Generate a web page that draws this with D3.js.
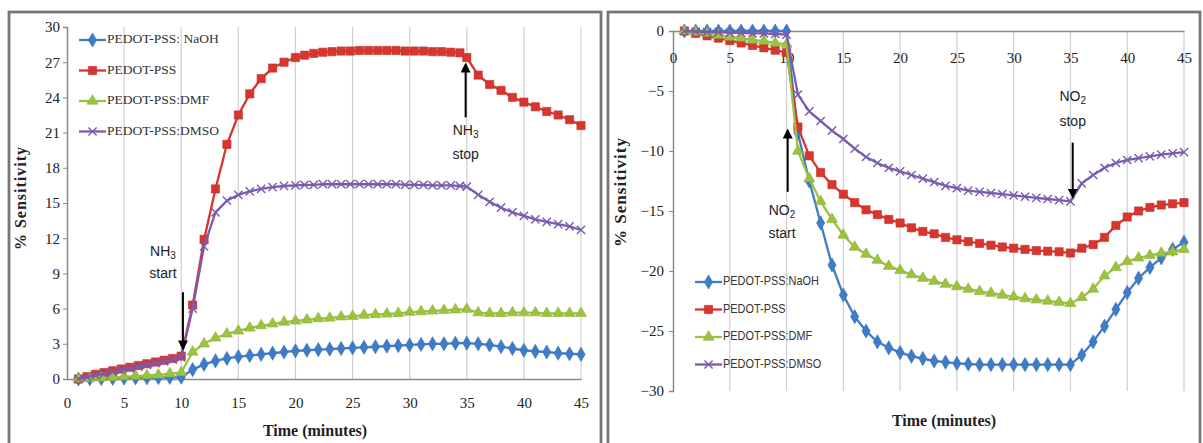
<!DOCTYPE html>
<html><head><meta charset="utf-8">
<script src="https://cdn.jsdelivr.net/npm/d3@7"></script>
<style>body{margin:0;background:#fff} svg{display:block}</style>
</head><body>
<svg id="c" width="1203" height="443"></svg>
<script>
// ---------------- DATA ----------------
const legendLeft  = ["PEDOT-PSS: NaOH","PEDOT-PSS","PEDOT-PSS:DMF","PEDOT-PSS:DMSO"];
const legendRight = ["PEDOT-PSS:NaOH","PEDOT-PSS","PEDOT-PSS:DMF","PEDOT-PSS:DMSO"];
const seriesColors = ["#3e7cc8","#d9352f","#9cc33f","#7a5cae"];
const seriesMarkers = ["diamond","square","triangle","times"];

const xTicks = [0,5,10,15,20,25,30,35,40,45];
const yTicksLeft = [0,3,6,9,12,15,18,21,24,27,30];
const yTicksRight = [0,-5,-10,-15,-20,-25,-30];

// common 1-minute time base
const tMin = [1,2,3,4,5,6,7,8,9,10,11,12,13,14,15,16,17,18,19,20,21,22,23,24,25,26,27,28,29,30,31,32,33,34,35,36,37,38,39,40,41,42,43,44,45];
// denser time base (left PEDOT-PSS and DMSO)
const tDense = [1,1.75,2.5,3.25,4,4.75,5.5,6.25,7,7.75,8.5,9.25,10,11,12,13,14,15,16,17,18,19,20,20.8,21.6,22.4,23.2,24,24.8,25.6,26.4,27.2,28,28.8,29.6,30.4,31.2,32,32.8,33.6,34.4,35,36,37,38,39,40,41,42,43,44,45];

// Left panel (NH3)
const nh3NaOH = [0,0.02,0.04,0.06,0.08,0.1,0.1,0.12,0.14,0.15,0.8,1.25,1.55,1.75,1.9,2.0,2.1,2.2,2.3,2.4,2.45,2.5,2.55,2.6,2.65,2.7,2.75,2.8,2.85,2.9,2.95,3.0,3.0,3.05,3.05,3.0,2.9,2.75,2.6,2.45,2.35,2.3,2.2,2.15,2.1];
const nh3PSS = [0,0.2,0.4,0.55,0.7,0.85,1.0,1.15,1.3,1.45,1.6,1.75,1.95,6.3,11.9,16.2,20.0,22.5,24.3,25.6,26.5,27.0,27.4,27.6,27.75,27.85,27.9,27.95,27.95,28.0,28.0,28.0,28.0,28.0,27.95,27.95,27.95,27.9,27.9,27.85,27.8,27.4,25.9,25.1,24.6,24.0,23.6,23.2,22.8,22.5,22.1,21.6];
const nh3DMF = [0,0.05,0.1,0.15,0.2,0.25,0.3,0.35,0.45,0.55,2.3,3.0,3.5,3.85,4.1,4.35,4.55,4.7,4.85,4.95,5.05,5.15,5.2,5.3,5.35,5.45,5.5,5.55,5.6,5.7,5.75,5.8,5.85,5.9,5.95,5.65,5.6,5.6,5.65,5.65,5.65,5.6,5.6,5.6,5.6];
const nh3DMSO = [0,0.15,0.3,0.45,0.6,0.75,0.9,1.05,1.2,1.35,1.5,1.65,1.85,6.0,11.3,14.2,15.2,15.7,16.0,16.2,16.35,16.45,16.5,16.55,16.55,16.6,16.6,16.6,16.6,16.6,16.6,16.6,16.6,16.6,16.55,16.55,16.55,16.5,16.5,16.5,16.45,16.4,15.7,15.1,14.6,14.2,13.9,13.6,13.4,13.2,13.0,12.7];

// Right panel (NO2)
const no2NaOH = [0,0,0,0,0,0,0,0,0,0,-8.5,-12.5,-16.0,-19.5,-22.0,-23.8,-25.0,-25.9,-26.4,-26.8,-27.1,-27.3,-27.5,-27.6,-27.7,-27.75,-27.8,-27.8,-27.8,-27.8,-27.8,-27.8,-27.8,-27.8,-27.8,-27.0,-25.9,-24.6,-23.2,-21.8,-20.6,-19.7,-18.9,-18.2,-17.6];
const no2PSS = [0,-0.2,-0.4,-0.6,-0.8,-1.0,-1.2,-1.4,-1.6,-1.8,-8.0,-10.4,-11.8,-12.8,-13.6,-14.3,-14.9,-15.3,-15.7,-16.0,-16.4,-16.7,-16.9,-17.2,-17.4,-17.55,-17.7,-17.85,-18.0,-18.1,-18.2,-18.3,-18.35,-18.4,-18.5,-18.1,-17.8,-17.2,-16.2,-15.5,-15.0,-14.7,-14.5,-14.4,-14.3];
const no2DMF = [0,-0.1,-0.2,-0.35,-0.5,-0.6,-0.75,-0.85,-1.0,-1.1,-10.0,-12.3,-14.2,-15.7,-17.0,-18.0,-18.6,-19.1,-19.6,-19.95,-20.3,-20.6,-20.85,-21.1,-21.3,-21.5,-21.7,-21.85,-22.0,-22.15,-22.3,-22.4,-22.5,-22.6,-22.7,-22.2,-21.5,-20.4,-19.7,-19.2,-18.9,-18.7,-18.5,-18.4,-18.2];
const no2DMSO = [0,-0.05,-0.1,-0.1,-0.15,-0.15,-0.2,-0.2,-0.25,-0.3,-5.3,-6.7,-7.5,-8.3,-9.0,-9.8,-10.5,-11.0,-11.4,-11.7,-12.0,-12.3,-12.6,-12.9,-13.1,-13.3,-13.4,-13.5,-13.6,-13.7,-13.8,-13.9,-14.0,-14.1,-14.2,-12.7,-12.0,-11.4,-11.0,-10.75,-10.6,-10.45,-10.3,-10.2,-10.1];

// annotations (positions in data units)
const annLeft = [
  {gas:"NH", sub:"3", word:"start", lt:8.4, lv:10.8, lv2:8.9, at:10.15, tail:7.4, tip:2.6},
  {gas:"NH", sub:"3", word:"stop", lt:34.9, lv:21.1, lv2:19.1, at:34.9, tail:22.3, tip:26.8}
];
const annRight = [
  {gas:"NO", sub:"2", word:"start", lt:9.6, lv:-15.0, lv2:-16.9, at:10.1, tail:-13.4, tip:-8.3},
  {gas:"NO", sub:"2", word:"stop", lt:35.2, lv:-5.5, lv2:-7.6, at:35.2, tail:-9.3, tip:-13.8}
];

// ---------------- DRAW ----------------
const svg = d3.select("#c");
const serif = "'Liberation Serif','Times New Roman',serif";
const sans = "'Liberation Sans','Arial',sans-serif";

// panel frames
svg.append("rect").attr("x",9).attr("y",12).attr("width",592).attr("height",470)
  .attr("fill","none").attr("stroke","#777").attr("stroke-width",2.8);
svg.append("rect").attr("x",608).attr("y",12).attr("width",592).attr("height",470)
  .attr("fill","none").attr("stroke","#777").attr("stroke-width",2.8);

const defs = svg.append("defs");
const mk = defs.append("marker").attr("id","ah").attr("viewBox","0 0 10 10")
  .attr("refX",8).attr("refY",5).attr("markerWidth",5).attr("markerHeight",5)
  .attr("orient","auto-start-reverse").attr("markerUnits","strokeWidth");
mk.append("path").attr("d","M0,0L10,5L0,10z").attr("fill","#000");

const symType = {
  diamond: d3.symbolDiamond, square: d3.symbolSquare,
  triangle: d3.symbolTriangle, times: (d3.symbolTimes || d3.symbolX || d3.symbolCross)
};
const symSize = {diamond:58, square:68, triangle:52, times:46};

function drawMarker(g, type, color, x, y){
  const p = g.append("path").attr("d", d3.symbol().type(symType[type]).size(symSize[type])())
    .attr("transform", `translate(${x},${y})`);
  if(type==="times") p.attr("fill","none").attr("stroke",color).attr("stroke-width",1.4);
  else p.attr("fill",color).attr("stroke",d3.color(color).darker(0.3)).attr("stroke-width",0.6);
}

function panel(cfg){
  const g = svg.append("g");
  const x = d3.scaleLinear().domain([0,45]).range(cfg.xr);
  const y = d3.scaleLinear().domain(cfg.yd).range(cfg.yr);
  const yTop = Math.min(...cfg.yr), yBot = Math.max(...cfg.yr);
  // gridlines
  g.append("g").selectAll("line").data(xTicks.filter(d=>d>0)).join("line")
    .attr("x1",d=>x(d)).attr("x2",d=>x(d)).attr("y1",yTop).attr("y2",yBot)
    .attr("stroke","#cfcfcf").attr("stroke-width",1.2);
  // y axis
  const ya = g.append("g").attr("transform",`translate(${cfg.xr[0]},0)`)
    .call(d3.axisLeft(y).tickValues(cfg.yTicks).tickSize(4).tickPadding(cfg.yPad).tickFormat(d3.format("d")));
  ya.select(".domain").attr("stroke","#8a8a8a").attr("stroke-width",1.5);
  ya.selectAll(".tick line").attr("stroke","#8a8a8a");
  ya.selectAll("text").attr("font-family",serif).attr("font-size",15).attr("fill","#222");
  // x axis (at value 0)
  const xa = g.append("g").attr("transform",`translate(0,${y(0)})`)
    .call(d3.axisBottom(x).tickValues(xTicks).tickSize(0).tickPadding(cfg.xPad).tickFormat(d3.format("d")));
  xa.select(".domain").attr("stroke","#8a8a8a").attr("stroke-width",1.5);
  xa.selectAll("text").attr("font-family",serif).attr("font-size",15).attr("fill","#222");
  // axis titles
  g.append("text").attr("x",cfg.xtPos[0]).attr("y",cfg.xtPos[1]).attr("text-anchor","middle")
    .attr("font-family",serif).attr("font-weight","bold").attr("font-size",16).attr("fill","#222")
    .text("Time (minutes)");
  g.append("text").attr("transform",`translate(${cfg.ytPos[0]},${cfg.ytPos[1]}) rotate(-90)`)
    .attr("text-anchor","middle").attr("dominant-baseline","middle")
    .attr("font-family",serif).attr("font-weight","bold").attr("font-size",cfg.ytSize).attr("letter-spacing",1).attr("fill","#222")
    .text("% Sensitivity");
  // series
  cfg.series.forEach((s,i)=>{
    const pts = s.t.map((t,j)=>[t,s.v[j]]);
    const sg = g.append("g");
    sg.append("path").datum(pts)
      .attr("d", d3.line().x(d=>x(d[0])).y(d=>y(d[1])))
      .attr("fill","none").attr("stroke",seriesColors[i]).attr("stroke-width",2.3);
    pts.forEach(d=>drawMarker(sg, seriesMarkers[i], seriesColors[i], x(d[0]), y(d[1])));
  });
  // legend
  cfg.legend.forEach((name,i)=>{
    const ly = cfg.legRows[i], lx = cfg.legX;
    g.append("line").attr("x1",lx).attr("x2",lx+27).attr("y1",ly).attr("y2",ly)
      .attr("stroke",seriesColors[i]).attr("stroke-width",2.3);
    drawMarker(g, seriesMarkers[i], seriesColors[i], lx+13.5, ly);
    g.append("text").attr("transform",`translate(${lx+28},${ly}) scale(${cfg.legScale},1)`)
      .attr("dominant-baseline","middle")
      .attr("font-family",cfg.legFont).attr("font-size",cfg.legSize).attr("fill","#333").text(name);
  });
  // annotations
  cfg.ann.forEach(a=>{
    g.append("line").attr("x1",x(a.at)).attr("x2",x(a.at)).attr("y1",y(a.tail)).attr("y2",y(a.tip))
      .attr("stroke","#000").attr("stroke-width",2).attr("marker-end","url(#ah)");
    const t1 = g.append("text").attr("x",x(a.lt)).attr("y",y(a.lv)).attr("text-anchor","middle")
      .attr("dominant-baseline","middle").attr("font-family",sans).attr("font-size",14).attr("fill","#222");
    t1.append("tspan").text(a.gas);
    t1.append("tspan").attr("font-size",10).attr("dy",4).text(a.sub);
    g.append("text").attr("x",x(a.lt)).attr("y",y(a.lv2)).attr("text-anchor","middle")
      .attr("dominant-baseline","middle").attr("font-family",sans).attr("font-size",14).attr("fill","#222")
      .text(a.word);
  });
}

panel({
  xr:[67,581], yd:[0,30], yr:[379,27], yTicks:yTicksLeft, yPad:3, xPad:18,
  xtPos:[315,436], ytPos:[22,198], ytSize:16,
  series:[{t:tMin,v:nh3NaOH},{t:tDense,v:nh3PSS},{t:tMin,v:nh3DMF},{t:tDense,v:nh3DMSO}],
  legend:legendLeft, legX:79, legRows:[40,70.5,101,131.5], legFont:serif, legSize:13.5, legScale:1,
  ann:annLeft
});
panel({
  xr:[673,1184], yd:[0,-30], yr:[31,391], yTicks:yTicksRight, yPad:5, xPad:21,
  xtPos:[944,426], ytPos:[622,192], ytSize:17,
  series:[{t:tMin,v:no2NaOH},{t:tMin,v:no2PSS},{t:tMin,v:no2DMF},{t:tMin,v:no2DMSO}],
  legend:legendRight, legX:695, legRows:[282,309.5,337,364.5], legFont:sans, legSize:13, legScale:0.84,
  ann:annRight
});
</script>
</body></html>
